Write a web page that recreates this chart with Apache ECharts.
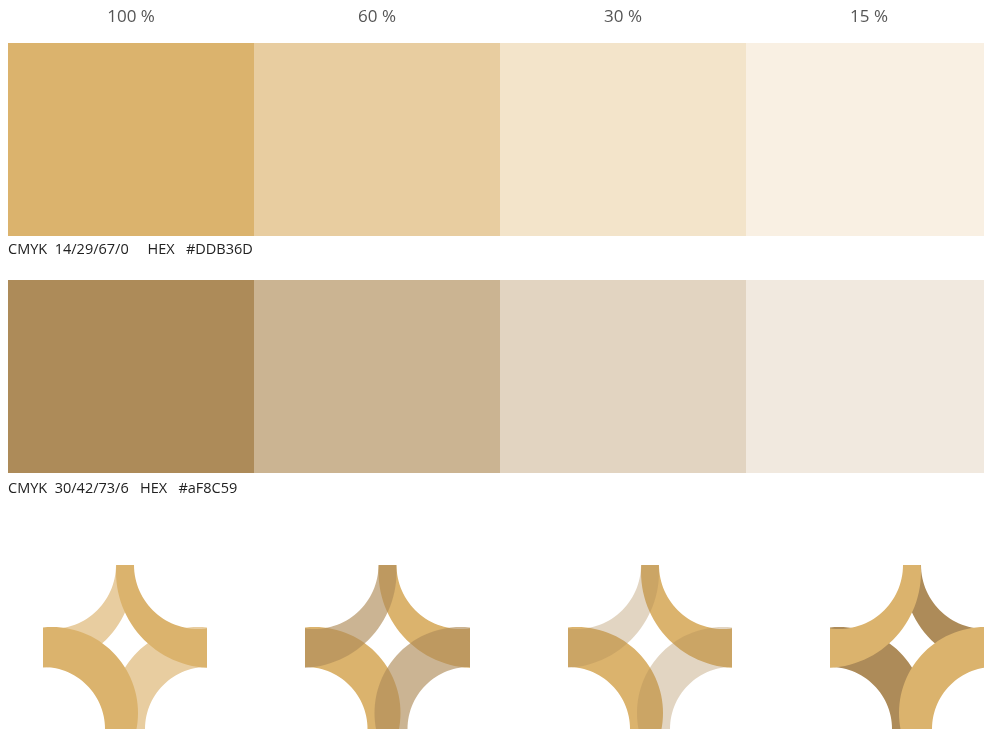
<!DOCTYPE html>
<html>
<head>
<meta charset="utf-8">
<style>
html, body { margin: 0; padding: 0; background: #fff; }
#chart { width: 984px; height: 729px; }
</style>
<script src="https://cdn.jsdelivr.net/npm/echarts@6/dist/echarts.min.js"></script>
</head>
<body>
<div id="chart"></div>
<script>
var tintLabels = ['100 %', '60 %', '30 %', '15 %'];
var goldTints = ['#DBB36D', '#E8CDA0', '#F3E4CA', '#F9F0E3'];
var brownTints = ['#AD8B59', '#CBB492', '#E2D4C1', '#F1E9DF'];
var swatchValue = [1, 1, 1, 1];
var goldInfo = 'CMYK  14/29/67/0     HEX   #DDB36D';
var brownInfo = 'CMYK  30/42/73/6   HEX   #aF8C59';

// logo arcs in order TL, TR, BL, BR (logo units: 164 x 164 box, y down)
var outerCX = [-5, 169, 9, 155];
var outerCY = [7, 7, 148, 148];
var outerR = [96, 96, 86, 86];
var innerCX = [9, 155, 0, 164];
var innerCY = [0, 0, 164, 164];
var innerR = [64, 64, 62, 62];
var arcStart = [-15, 75, -105, 165];

// the four logo variants: draw order, fill and opacity of each arc
var logoOrder = [[0, 3, 1, 2], [1, 2, 0, 3], [1, 2, 0, 3], [1, 2, 0, 3]];
var logoFill = [
  ['#E8CDA0', '#DBB36D', '#DBB36D', '#E8CDA0'],
  ['#AF8C59', '#DBB36D', '#DBB36D', '#AF8C59'],
  ['#AF8C59', '#DBB36D', '#DBB36D', '#AF8C59'],
  ['#DBB36D', '#AD8B59', '#AD8B59', '#DBB36D']
];
var logoAlpha = [
  [1, 1, 1, 1],
  [0.65, 1, 1, 0.65],
  [0.37, 1, 1, 0.37],
  [1, 1, 1, 1]
];

var FONT = '"Open Sans", "Noto Sans", sans-serif';
var logoLeft = [43, 305.5, 568, 830];

var myChart = echarts.init(document.getElementById('chart'));

function renderArc(params, api) {
  var k = api.value(0);
  var li = api.value(1);
  var pts = [];
  var a, t;
  for (a = 0; a <= 120; a += 3) {
    t = (arcStart[k] + a) * Math.PI / 180;
    pts.push(api.coord([outerCX[k] + outerR[k] * Math.cos(t), outerCY[k] + outerR[k] * Math.sin(t)]));
  }
  for (a = 120; a >= 0; a -= 3) {
    t = (arcStart[k] + a) * Math.PI / 180;
    pts.push(api.coord([innerCX[k] + innerR[k] * Math.cos(t), innerCY[k] + innerR[k] * Math.sin(t)]));
  }
  return {
    type: 'polygon',
    shape: { points: pts },
    style: { fill: echarts.color.modifyAlpha(logoFill[li][k], logoAlpha[li][k]) }
  };
}

var grids = [
  { left: 8, top: 43, width: 984, height: 193, outerBoundsMode: 'none' },
  { left: 8, top: 280, width: 984, height: 193, outerBoundsMode: 'none' }
];
var xAxes = [
  {
    type: 'category', gridIndex: 0, data: tintLabels, position: 'top',
    axisLine: { show: false }, axisTick: { show: false },
    axisLabel: { color: '#555', fontSize: 17, margin: 17, fontFamily: FONT }
  },
  { type: 'category', gridIndex: 1, data: tintLabels, show: false }
];
var yAxes = [
  { type: 'value', gridIndex: 0, min: 0, max: 1, show: false },
  { type: 'value', gridIndex: 1, min: 0, max: 1, show: false }
];
var series = [
  {
    type: 'bar', xAxisIndex: 0, yAxisIndex: 0, barWidth: '100%',
    data: swatchValue.map(function (v, i) { return { value: v, itemStyle: { color: goldTints[i] } }; })
  },
  {
    type: 'bar', xAxisIndex: 1, yAxisIndex: 1, barWidth: '100%',
    data: swatchValue.map(function (v, i) { return { value: v, itemStyle: { color: brownTints[i] } }; })
  }
];

for (var i = 0; i < 4; i++) {
  grids.push({ left: logoLeft[i], top: 565, width: 164, height: 164, outerBoundsMode: 'none' });
  xAxes.push({ type: 'value', gridIndex: i + 2, min: 0, max: 164, show: false });
  yAxes.push({ type: 'value', gridIndex: i + 2, min: 0, max: 164, inverse: true, show: false });
  series.push({
    type: 'custom', xAxisIndex: i + 2, yAxisIndex: i + 2, clip: true,
    renderItem: renderArc,
    data: logoOrder[i].map(function (k) { return [k, i]; })
  });
}

var option = {
  animation: false,
  backgroundColor: '#fff',
  title: [
    {
      text: goldInfo, left: 8, top: 242, padding: 0,
      textStyle: { fontSize: 14.5, fontWeight: 'normal', color: '#222', fontFamily: FONT }
    },
    {
      text: brownInfo, left: 8, top: 481, padding: 0,
      textStyle: { fontSize: 14.5, fontWeight: 'normal', color: '#222', fontFamily: FONT }
    }
  ],
  grid: grids,
  xAxis: xAxes,
  yAxis: yAxes,
  series: series
};
myChart.setOption(option);
</script>
</body>
</html>
